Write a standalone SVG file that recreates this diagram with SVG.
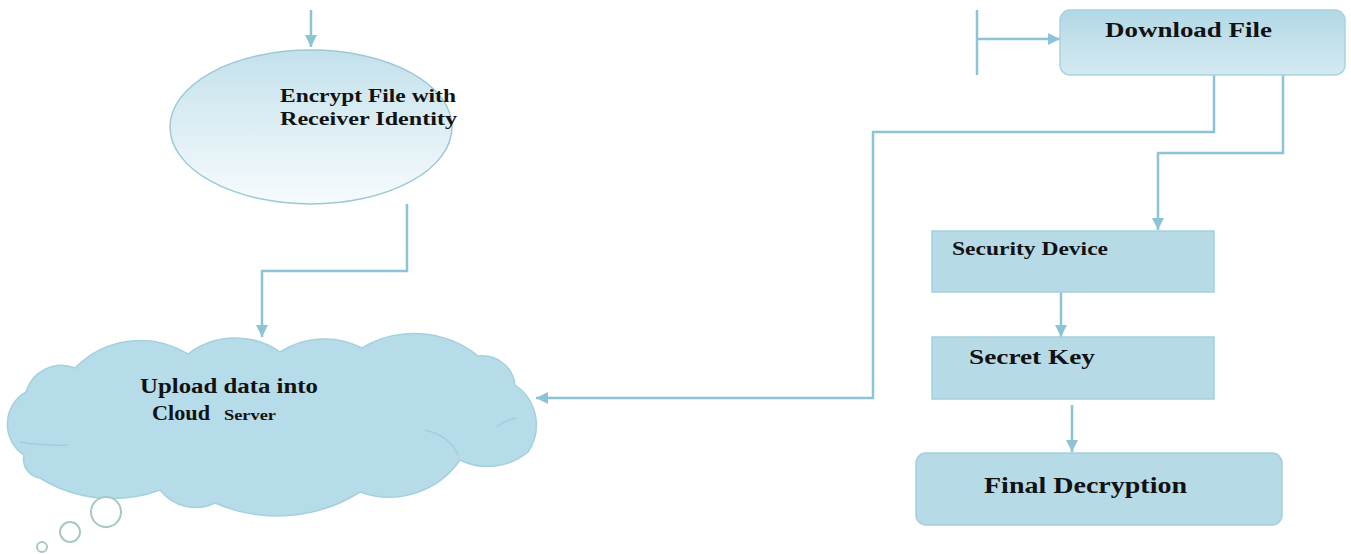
<svg xmlns="http://www.w3.org/2000/svg" width="1351" height="554" viewBox="0 0 1351 554">
<defs>
<linearGradient id="gEll" x1="0" y1="0" x2="0" y2="1">
<stop offset="0" stop-color="#c3e1eb"/>
<stop offset="1" stop-color="#f7fbfd"/>
</linearGradient>
<linearGradient id="gDl" x1="0" y1="0" x2="0" y2="1">
<stop offset="0" stop-color="#b2d8e5"/>
<stop offset="1" stop-color="#d4eaf1"/>
</linearGradient>
<marker id="ah" viewBox="0 0 12 12" refX="12" refY="6" markerWidth="12" markerHeight="12" markerUnits="userSpaceOnUse" orient="auto">
<path d="M0,0 L12,6 L0,12 Z" fill="#8cc4d6"/>
</marker>
</defs>
<style>
.t{font-family:"Liberation Serif","Times New Roman",serif;font-weight:bold;fill:#121212}
.box{fill:#b6dbe7;stroke:#a3cfdd;stroke-width:1.5}
.c{fill:none;stroke:#8cc4d6;stroke-width:2.5}
.bub{fill:#ffffff;stroke:#a7c9c2;stroke-width:2}
</style>
<rect width="1351" height="554" fill="#ffffff"/>

<g id="connectors">
<path class="c" d="M311 10 V47" marker-end="url(#ah)"/>
<path class="c" d="M407 204 V271 H262 V337" marker-end="url(#ah)"/>
<path class="c" d="M977 10 V75"/>
<path class="c" d="M977 39 H1060" marker-end="url(#ah)"/>
<path class="c" d="M1214 75 V132 H873 V398 H536" marker-end="url(#ah)"/>
<path class="c" d="M1283 75 V153 H1158 V230" marker-end="url(#ah)"/>
<path class="c" d="M1061 292 V337" marker-end="url(#ah)"/>
<path class="c" d="M1072 405 V452" marker-end="url(#ah)"/>
</g>

<g id="encrypt">
<ellipse cx="311" cy="127" rx="141" ry="77" fill="url(#gEll)" stroke="#9cc9d8" stroke-width="1.5"/>
<text class="t" x="280" y="102" font-size="18" textLength="176" lengthAdjust="spacingAndGlyphs">Encrypt File with</text>
<text class="t" x="280" y="125" font-size="18" textLength="177" lengthAdjust="spacingAndGlyphs">Receiver Identity</text>
</g>

<g id="cloud">
<path d="M24 455 A37 37 0 0 1 26 392 A37 37 0 0 1 75 368 A91 91 0 0 1 188 354 A78 78 0 0 1 280 352 A82 82 0 0 1 362 348 A102 102 0 0 1 478 356 A33 33 0 0 1 515 385 A48 48 0 0 1 528 452 A63 63 0 0 1 460 460 A86 86 0 0 1 360 492 A155 155 0 0 1 215 503 A45 45 0 0 1 160 490 A137 137 0 0 1 40 478 A19 19 0 0 1 24 455 Z" fill="#b5dce8" stroke="#a5d0de" stroke-width="1.5"/>
<path d="M425 430 Q450 436 458 455" fill="none" stroke="#a2cedc" stroke-width="1.5"/>
<path d="M20 442 Q45 446 68 445" fill="none" stroke="#a2cedc" stroke-width="1.5"/>
<path d="M497 427 Q505 420 516 418" fill="none" stroke="#a2cedc" stroke-width="1.5"/>
<text class="t" x="140" y="393" font-size="20" textLength="178" lengthAdjust="spacingAndGlyphs">Upload data into</text>
<text class="t" x="152" y="420" font-size="20" textLength="58" lengthAdjust="spacingAndGlyphs">Cloud</text>
<text class="t" x="224" y="420" font-size="15" textLength="52" lengthAdjust="spacingAndGlyphs">Server</text>
<circle class="bub" cx="106" cy="512" r="15"/>
<circle class="bub" cx="70" cy="532" r="10"/>
<circle class="bub" cx="42" cy="547" r="5"/>
</g>

<g id="download">
<rect x="1060" y="10" width="285" height="65" rx="10" fill="url(#gDl)" stroke="#a8d2df" stroke-width="1.5"/>
<text class="t" x="1105" y="37" font-size="20" textLength="167" lengthAdjust="spacingAndGlyphs">Download File</text>
</g>

<g id="security">
<rect class="box" x="932" y="231" width="282" height="61"/>
<text class="t" x="952" y="255" font-size="19" textLength="156" lengthAdjust="spacingAndGlyphs">Security Device</text>
</g>

<g id="secret">
<rect class="box" x="932" y="337" width="282" height="62"/>
<text class="t" x="969" y="364" font-size="21" textLength="126" lengthAdjust="spacingAndGlyphs">Secret Key</text>
</g>

<g id="final">
<rect class="box" x="916" y="453" width="366" height="72" rx="10"/>
<text class="t" x="984" y="493" font-size="24" textLength="203" lengthAdjust="spacingAndGlyphs">Final Decryption</text>
</g>
</svg>
